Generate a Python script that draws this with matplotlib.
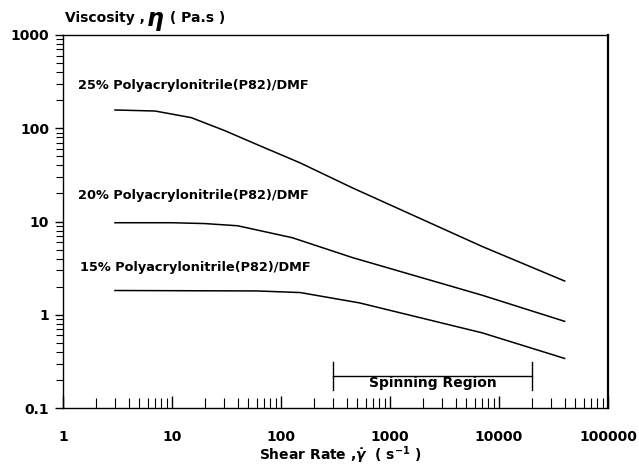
import matplotlib
matplotlib.use("Agg")
import matplotlib.pyplot as plt
from matplotlib.ticker import LogLocator, FixedLocator, FixedFormatter, NullFormatter

# ---- data ----
shear_25 = [3, 7, 15, 30, 60, 150, 450, 7000, 40000]
visc_25 = [157, 153, 130, 95, 67, 42.5, 23, 5.4, 2.3]

shear_20 = [3, 10, 20, 40, 127, 453, 7000, 40000]
visc_20 = [9.7, 9.7, 9.5, 9.0, 6.7, 4.1, 1.62, 0.85]

shear_15 = [3, 60, 150, 525, 7000, 40000]
visc_15 = [1.82, 1.8, 1.73, 1.34, 0.64, 0.34]

labels = ["25% Polyacrylonitrile(P82)/DMF",
          "20% Polyacrylonitrile(P82)/DMF",
          "15% Polyacrylonitrile(P82)/DMF"]

spin_start, spin_end, spin_level = 300, 20000, 0.22

x_ticks = [1, 10, 100, 1000, 10000, 100000]
x_ticklabels = ["1", "10", "100", "1000", "10000", "100000"]
y_ticks = [0.1, 1, 10, 100, 1000]
y_ticklabels = ["0.1", "1", "10", "100", "1000"]

plt.rcParams['font.family'] = ['DejaVu Sans']
plt.rcParams['font.weight'] = 'bold'
plt.rcParams['mathtext.default'] = 'bf'

fig = plt.figure(figsize=(6.39, 4.67), dpi=100)
ax = fig.add_axes([63/639, 1-408/467, (608-63)/639, (408-35)/467])

for xs, ys in [(shear_25, visc_25), (shear_20, visc_20), (shear_15, visc_15)]:
    ax.plot(xs, ys, color='black', lw=1.1)

ax.set_xscale('log')
ax.set_yscale('log')
ax.set_xlim(1, 100000)
ax.set_ylim(0.1, 1000)

ax.xaxis.set_major_locator(FixedLocator(x_ticks))
ax.xaxis.set_major_formatter(FixedFormatter(x_ticklabels))
ax.yaxis.set_major_locator(FixedLocator(y_ticks))
ax.yaxis.set_major_formatter(FixedFormatter(y_ticklabels))
ax.xaxis.set_minor_locator(LogLocator(base=10, subs=range(2, 10), numticks=20))
ax.yaxis.set_minor_locator(LogLocator(base=10, subs=range(2, 10), numticks=20))
ax.xaxis.set_minor_formatter(NullFormatter())
ax.yaxis.set_minor_formatter(NullFormatter())

ax.tick_params(axis='x', which='major', direction='in', length=9, width=1, pad=16, labelsize=10)
ax.tick_params(axis='x', which='minor', direction='in', length=7, width=0.8)
ax.tick_params(axis='y', which='major', direction='out', length=6, width=1, pad=4, labelsize=10)
ax.tick_params(axis='y', which='minor', direction='out', length=5, width=0.8)
for lab in ax.get_xticklabels() + ax.get_yticklabels():
    lab.set_fontweight('bold')

for s in ax.spines.values():
    s.set_linewidth(1.0)
ax.spines['right'].set_linewidth(1.6)

# curve labels
label_pos = [(1.37, 284), (1.37, 18.8), (1.42, 3.18)]
for (lx, ly), t in zip(label_pos, labels):
    ax.text(lx, ly, t, fontsize=9.3, fontweight='bold', ha='left', va='center')

# spinning region bracket
ax.plot([spin_start, spin_end], [spin_level, spin_level], color='black', lw=1.0)
ax.plot([spin_start, spin_start], [spin_level*0.71, spin_level*1.42], color='black', lw=1.0)
ax.plot([spin_end, spin_end], [spin_level*0.71, spin_level*1.42], color='black', lw=1.0)
ax.text((spin_start*spin_end)**0.5, 0.186, "Spinning Region", fontsize=10,
        fontweight='bold', ha='center', va='center')

# y-axis title pieces placed one after another
fig.canvas.draw()
renderer = fig.canvas.get_renderer()
W, H = 639, 467
x0 = 65
parts = [("Viscosity ,", 10, 0), (r"$\mathit{\eta}$", 17, 3), (" ( Pa.s )", 10, 0)]
for s, fs, dy in parts:
    t = fig.text(x0/W, 1-(18+dy)/H, s, fontsize=fs, fontweight='bold', ha='left', va='center')
    bb = t.get_window_extent(renderer)
    x0 += bb.width + 1

fig.text(340/639, 1-455/467, r"Shear Rate ,$\dot{\mathit{\gamma}}$  ( s$^{-1}$ )", fontsize=10,
         fontweight='bold', ha='center', va='center')

fig.savefig("out.png", dpi=100)
